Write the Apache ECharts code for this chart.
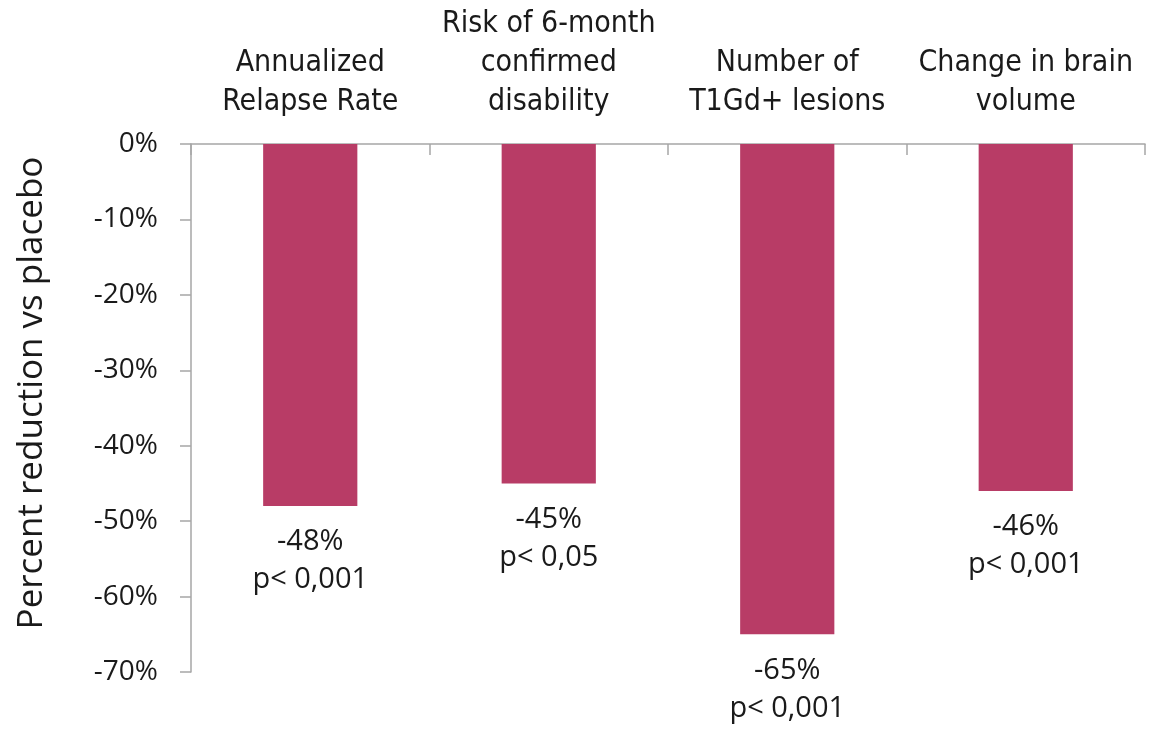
<!DOCTYPE html>
<html>
<head>
<meta charset="utf-8">
<script src="https://cdn.jsdelivr.net/npm/echarts@6/dist/echarts.min.js"></script>
<style>
  html, body { margin: 0; padding: 0; background: #fff; }
  #chart { width: 1150px; height: 729px; }
</style>
</head>
<body>
<div id="chart"></div>
<script>
// Outcome measures and their reductions relative to placebo
const categories = [
  'Annualized\nRelapse Rate',
  'Risk of 6-month\nconfirmed\ndisability',
  'Number of\nT1Gd+ lesions',
  'Change in brain\nvolume'
];
const reductions = [-48, -45, -65, -46];
const pValues = ['p< 0,001', 'p< 0,05', 'p< 0,001', 'p< 0,001'];
const yTicks = [0, -10, -20, -30, -40, -50, -60, -70];

const CAT_FONT = 'DejaVu Sans Condensed';
const FONT = 'Open Sans';
const TEXT = '#1a1a1a';
const AXIS_GREY = '#A6A6A6';

const chart = echarts.init(document.getElementById('chart'), null, { renderer: 'canvas' });

chart.setOption({
  animation: false,
  grid: {
    left: 191, right: 5, top: 144, bottom: 57,
    containLabel: false,
    outerBoundsMode: 'none'
  },
  xAxis: {
    type: 'category',
    position: 'top',
    data: categories,
    axisLine: { lineStyle: { color: AXIS_GREY, width: 1.5 } },
    axisTick: { show: true, inside: true, length: 11, lineStyle: { color: AXIS_GREY, width: 1.5 } },
    axisLabel: {
      color: TEXT,
      fontFamily: CAT_FONT,
      fontSize: 30,
      lineHeight: 39,
      margin: 22,
      interval: 0
    }
  },
  yAxis: {
    type: 'value',
    min: -70,
    max: 0,
    interval: 10,
    name: 'Percent reduction vs placebo',
    nameLocation: 'middle',
    nameGap: 141,
    nameTextStyle: {
      fontFamily: FONT,
      fontSize: 35,
      color: TEXT,
      padding: [0, 0, 0, 30]
    },
    splitLine: { show: false },
    axisLine: { show: true, lineStyle: { color: AXIS_GREY, width: 1.5 } },
    axisTick: { show: true, length: 11, lineStyle: { color: AXIS_GREY, width: 1.5 } },
    axisLabel: {
      color: TEXT,
      fontFamily: FONT,
      fontSize: 28,
      margin: 33,
      formatter: v => (yTicks.includes(v) ? v + '%' : '')
    }
  },
  series: [{
    type: 'bar',
    data: reductions,
    barWidth: '39.5%',
    itemStyle: { color: '#B83C66' },
    label: {
      show: true,
      position: 'bottom',
      distance: 17,
      color: TEXT,
      fontFamily: FONT,
      fontSize: 29,
      lineHeight: 38,
      formatter: p => p.value + '%\n' + pValues[p.dataIndex]
    }
  }]
});
</script>
</body>
</html>
